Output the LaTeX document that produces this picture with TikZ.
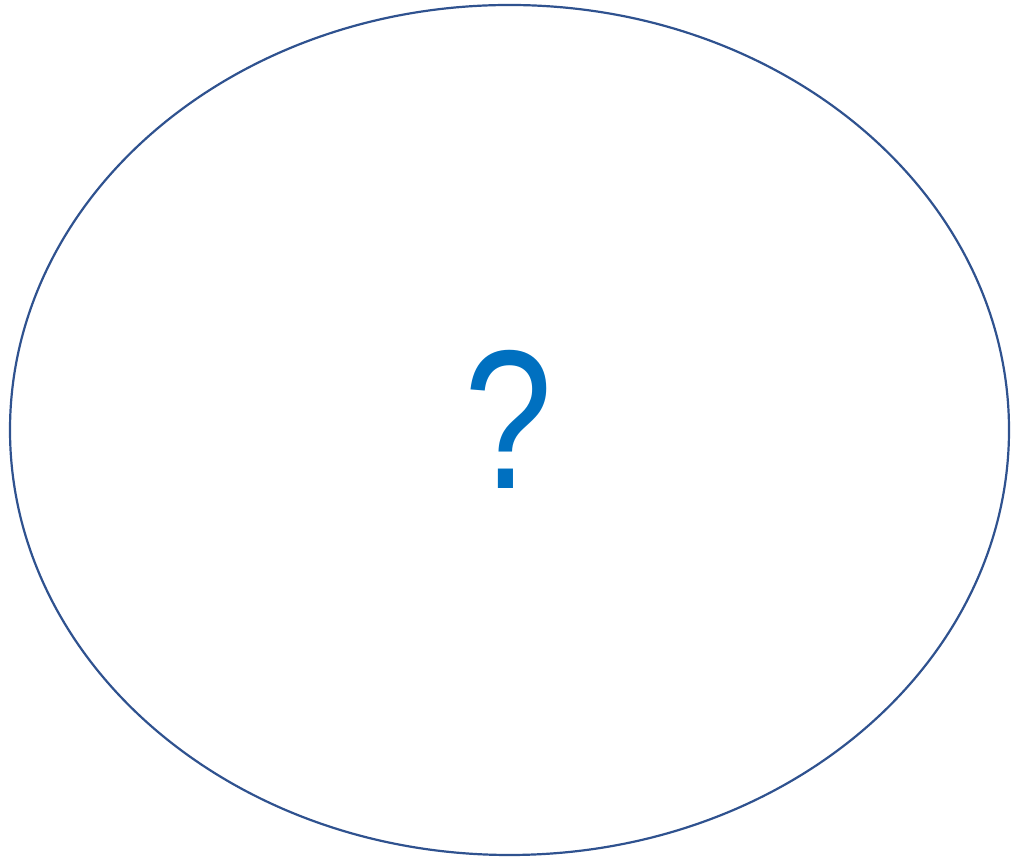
\documentclass[tikz,border=0pt]{standalone}
\usepackage{fontspec}
\setmainfont{Liberation Sans}
\definecolor{ellline}{RGB}{47,82,143}
\definecolor{qblue}{RGB}{0,112,192}
\tikzset{
  ringshape/.style={draw=ellline, line width=2.2pt},
  qmark/.style={text=qblue, inner sep=0pt, anchor=base, font=\fontsize{198}{198}\selectfont}
}
\begin{document}
\begin{tikzpicture}[x=1pt,y=1pt]
\useasboundingbox (0,0) rectangle (1012,858);
\draw[ringshape] (509.5,428) ellipse [x radius=499.5, y radius=425];
\node[qmark] (q) at (509,369) {\scalebox{0.8}[1]{?}};
\end{tikzpicture}
\end{document}
